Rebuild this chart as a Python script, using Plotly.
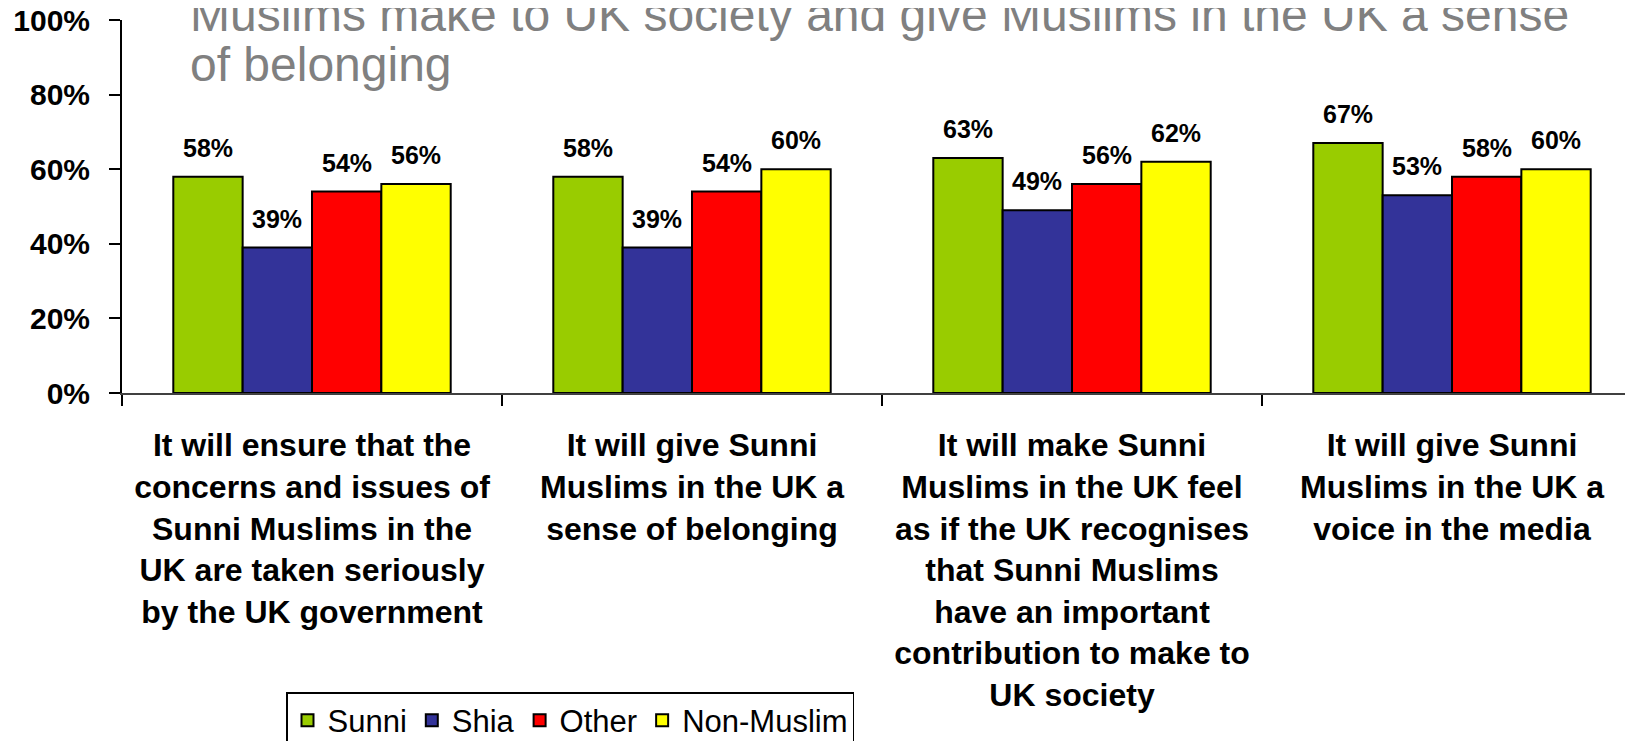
import plotly.graph_objects as go

categories = [
    "It will ensure that the<br>concerns and issues of<br>Sunni Muslims in the<br>UK are taken seriously<br>by the UK government",
    "It will give Sunni<br>Muslims in the UK a<br>sense of belonging",
    "It will make Sunni<br>Muslims in the UK feel<br>as if the UK recognises<br>that Sunni Muslims<br>have an important<br>contribution to make to<br>UK society",
    "It will give Sunni<br>Muslims in the UK a<br>voice in the media",
]
series_names = ["Sunni", "Shia", "Other", "Non-Muslim"]
sunni = [58, 58, 63, 67]
shia = [39, 39, 49, 53]
other = [54, 54, 56, 58]
non_muslim = [56, 60, 62, 60]
colors = ["#99CC00", "#333399", "#FF0000", "#FFFF00"]
y_ticks = [0, 0.2, 0.4, 0.6, 0.8, 1.0]
title_lines = [
    "Muslims make to UK society and give Muslims in the UK a sense",
    "of belonging",
]

FONT = "Arial, Liberation Sans, sans-serif"
# the page body keeps its default 8px margin, so the figure is 8px smaller
W, H = 1625, 733
LEFT, TOP, BOTTOM = 114, 12, 385.5
CAT_W = 380
BARGAP = 0.27

fig = go.Figure()
all_values = [sunni, shia, other, non_muslim]
for name, values, color in zip(series_names, all_values, colors):
    fig.add_trace(go.Bar(
        x=categories,
        y=[v / 100 for v in values],
        name=name,
        marker=dict(color=color, line=dict(color="black", width=2)),
    ))

# value labels sit a bit higher above the bars than plotly's outside text
bar_w = (1 - BARGAP) / len(series_names)
annotations = []
for k, values in enumerate(all_values):
    for i, v in enumerate(values):
        annotations.append(dict(
            x=i + (k - (len(series_names) - 1) / 2) * bar_w,
            y=v / 100,
            xref="x", yref="y",
            text=f"{v}%",
            showarrow=False,
            yanchor="bottom",
            yshift=13,
            font=dict(family=FONT, size=25, color="black", weight="bold"),
        ))

# title is partly cut off at the top of the slide, as in the source
plot_h = BOTTOM - TOP
title_size = 48
for line, baseline in zip(title_lines, [24, 74]):
    annotations.append(dict(
        x=(180 - LEFT) / (W - LEFT),
        y=(BOTTOM - (baseline + 0.212 * title_size + 1)) / plot_h,
        xref="paper", yref="paper",
        text=line,
        showarrow=False,
        xanchor="left", yanchor="bottom",
        font=dict(family=FONT, size=title_size, color="#808080"),
    ))

fig.update_layout(
    width=W, height=H,
    margin=dict(l=LEFT, r=0, t=TOP, b=H - BOTTOM, autoexpand=False),
    paper_bgcolor="white",
    plot_bgcolor="white",
    barmode="group",
    bargap=BARGAP,
    bargroupgap=0,
    annotations=annotations,
    showlegend=True,
    legend=dict(
        orientation="h",
        xref="container", yref="container",
        x=278 / W, y=1 - 684 / H,
        xanchor="left", yanchor="top",
        bgcolor="white",
        bordercolor="black",
        borderwidth=1.5,
        itemwidth=30,
        font=dict(family=FONT, size=31, color="black"),
        traceorder="normal",
    ),
)

fig.update_xaxes(
    type="category",
    range=[-0.5, -0.5 + (W - LEFT) / CAT_W],
    tickson="boundaries",
    ticks="outside",
    ticklen=11,
    tickwidth=2,
    tickcolor="black",
    showline=True,
    linecolor="#404040",
    linewidth=2,
    showgrid=False,
    automargin=False,
    tickangle=0,
    ticklabelstandoff=23,
    tickfont=dict(family=FONT, size=32, color="black", weight="bold"),
)
fig.update_yaxes(
    range=[0, 1],
    tickvals=y_ticks,
    tickformat=".0%",
    ticks="outside",
    ticklen=11,
    tickwidth=2,
    tickcolor="black",
    showline=True,
    linecolor="black",
    linewidth=2,
    showgrid=False,
    zeroline=False,
    automargin=False,
    ticklabeloverflow="allow",
    ticklabelstandoff=13,
    tickfont=dict(family=FONT, size=30, color="black", weight="bold"),
)

fig.write_html("out.html")
